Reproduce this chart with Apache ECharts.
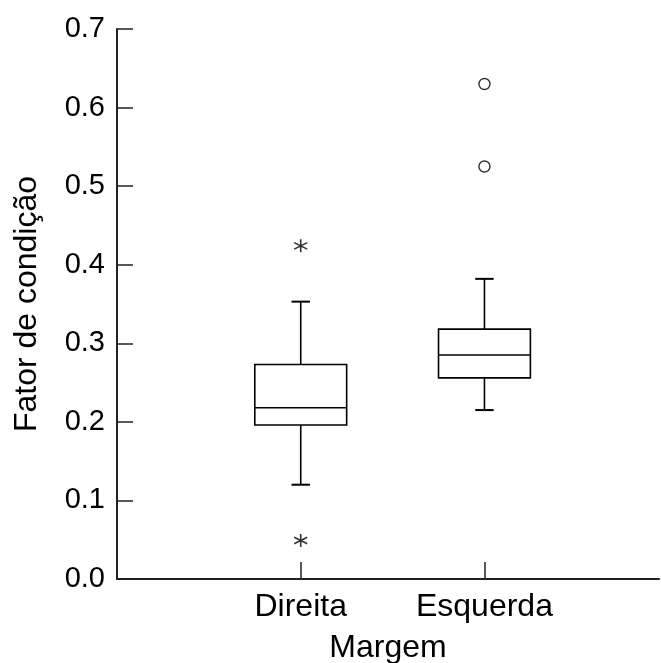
<!DOCTYPE html>
<html>
<head>
<meta charset="utf-8">
<style>html,body{margin:0;padding:0;background:#fff}#c{width:661px;height:663px}</style>
<script src="https://cdn.jsdelivr.net/npm/echarts@6/dist/echarts.min.js"></script>
</head>
<body>
<div id="c"></div>
<script>
const categories = ['Direita', 'Esquerda'];
const categoryPos = [1, 2];
const whiskerLow = [0.120, 0.215];
const q1 = [0.196, 0.256];
const median = [0.218, 0.285];
const q3 = [0.273, 0.318];
const whiskerHigh = [0.353, 0.382];
// outside values (asterisks)
const starX = [1, 1];
const starY = [0.424, 0.049];
// far outside values (circles)
const circleX = [2, 2];
const circleY = [0.630, 0.525];
const yTicks = [0, 0.1, 0.2, 0.3, 0.4, 0.5, 0.6, 0.7];

const FONT = 'Liberation Sans, Arial, sans-serif';
const boxData = categoryPos.map((p, i) => [p, whiskerLow[i], q1[i], median[i], q3[i], whiskerHigh[i]]);

const chart = echarts.init(document.getElementById('c'), null, {renderer: 'canvas'});
chart.setOption({
  backgroundColor: '#fff',
  animation: false,
  grid: {left: 117, right: 2, top: 29, bottom: 84, containLabel: false, outerBoundsMode: 'none'},
  xAxis: {
    type: 'value', min: 0, max: 2.95, interval: 1,
    name: 'Margem', nameLocation: 'middle', nameGap: 53,
    nameTextStyle: {fontFamily: FONT, fontSize: 32, color: '#000'},
    splitLine: {show: false},
    axisLine: {show: true, lineStyle: {color: '#222', width: 2}},
    axisTick: {show: true, inside: true, length: 17, customValues: categoryPos, lineStyle: {color: '#222', width: 1.5}},
    axisLabel: {
      customValues: categoryPos, margin: 12,
      fontFamily: FONT, fontSize: 32, color: '#000',
      formatter: v => { const i = categoryPos.indexOf(Math.round(v)); return i >= 0 ? categories[i] : ''; }
    }
  },
  yAxis: {
    type: 'value', min: 0, max: 0.7, interval: 0.1,
    name: 'Fator de condição', nameLocation: 'middle', nameGap: 74, nameRotate: 90,
    nameTextStyle: {fontFamily: FONT, fontSize: 32, color: '#000'},
    splitLine: {show: false},
    axisLine: {show: true, lineStyle: {color: '#222', width: 2}},
    axisTick: {show: true, inside: true, length: 16, customValues: yTicks, lineStyle: {color: '#222', width: 1.5}},
    axisLabel: {customValues: yTicks, margin: 12, fontFamily: FONT, fontSize: 29, color: '#000', formatter: v => v.toFixed(1)}
  },
  series: [
    {
      type: 'custom',
      data: boxData,
      encode: {x: 0, y: [1, 2, 3, 4, 5]},
      renderItem: function (params, api) {
        const x = api.value(0);
        const halfBox = api.size([0.25, 0])[0];
        const halfCap = api.size([0.05, 0])[0];
        const pLow = api.coord([x, api.value(1)]);
        const pQ1 = api.coord([x, api.value(2)]);
        const pMed = api.coord([x, api.value(3)]);
        const pQ3 = api.coord([x, api.value(4)]);
        const pHigh = api.coord([x, api.value(5)]);
        const cx = pMed[0];
        const st = {stroke: '#000', lineWidth: 1.6, fill: null};
        return {
          type: 'group',
          children: [
            {type: 'rect', shape: {x: cx - halfBox, y: pQ3[1], width: halfBox * 2, height: pQ1[1] - pQ3[1]}, style: {stroke: '#000', lineWidth: 1.6, fill: 'none'}},
            {type: 'line', shape: {x1: cx - halfBox, y1: pMed[1], x2: cx + halfBox, y2: pMed[1]}, style: st},
            {type: 'line', shape: {x1: cx, y1: pQ3[1], x2: cx, y2: pHigh[1]}, style: st},
            {type: 'line', shape: {x1: cx, y1: pQ1[1], x2: cx, y2: pLow[1]}, style: st},
            {type: 'line', shape: {x1: cx - halfCap, y1: pHigh[1], x2: cx + halfCap, y2: pHigh[1]}, style: {stroke: '#000', lineWidth: 2}},
            {type: 'line', shape: {x1: cx - halfCap, y1: pLow[1], x2: cx + halfCap, y2: pLow[1]}, style: {stroke: '#000', lineWidth: 2}}
          ]
        };
      },
      z: 3
    },
    {
      type: 'scatter',
      data: starX.map((x, i) => [x, starY[i]]),
      symbol: 'path://M0,-1L0,1M-0.866,-0.5L0.866,0.5M-0.866,0.5L0.866,-0.5',
      symbolSize: 13,
      itemStyle: {color: 'none', borderColor: '#000', borderWidth: 1.6},
      z: 4
    },
    {
      type: 'scatter',
      data: circleX.map((x, i) => [x, circleY[i]]),
      symbol: 'circle',
      symbolSize: 11,
      itemStyle: {color: '#fff', borderColor: '#000', borderWidth: 1.4},
      z: 4
    }
  ]
});
</script>
</body>
</html>
